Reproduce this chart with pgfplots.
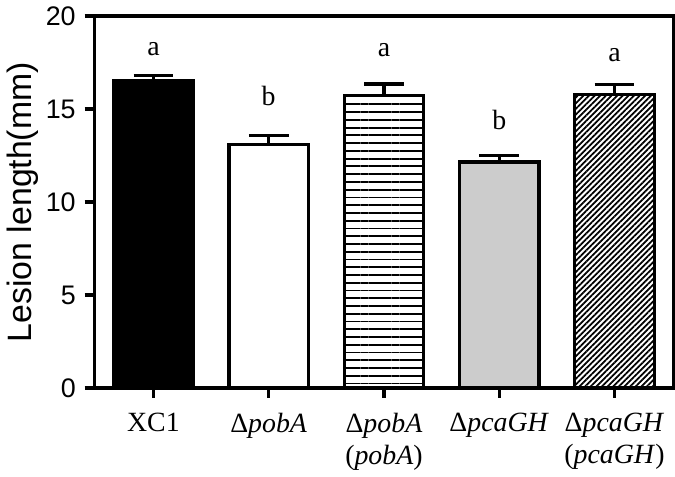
\documentclass[border=0pt]{standalone}
\usepackage{fontspec}
\setmainfont{Liberation Sans}
\newfontfamily\timesfont{Liberation Serif}
\usepackage{pgfplots}
\pgfplotsset{compat=1.18}
\usetikzlibrary{patterns.meta}

\begin{document}
\begin{tikzpicture}
  \begin{axis}[
      scale only axis,
      width=291pt, height=187pt,
      ymin=0, ymax=20, ytick={0,5,...,20},
      xmin=-0.51, xmax=4.51,
      xtick={0,1,2,3,4},
      xticklabels={XC1, Δ\textit{pobA}, Δ\textit{pobA}\\(\textit{pobA}), Δ\textit{pcaGH}, Δ\textit{pcaGH}\\(\textit{pcaGH})},
      tick align=outside, xtick pos=bottom, ytick pos=left,
      major tick length=5pt,
      axis line style={line width=1.7pt},
      every tick/.style={line width=1.7pt, black},
      ylabel={Lesion length(mm)},
      ylabel style={font=\fontsize{17}{19}\selectfont, yshift=-3pt},
      yticklabel style={font=\fontsize{13.5}{15}\selectfont, xshift=-1pt},
      xticklabel style={font=\timesfont\fontsize{14}{16}\selectfont, align=center, yshift=-4pt},
      /pgf/number format/assume math mode=true,
      ybar, bar width=40pt, bar shift=0pt,
      error bars/y dir=plus, error bars/y explicit,
      error bars/error bar style={line width=1.6pt, black},
      error bars/error mark options={rotate=90, mark size=10pt, line width=1.6pt, black},
    ]
    \addplot[draw=black, fill=black, line width=1.6pt] coordinates {(0,16.55) +- (0,0.25)};
    \addplot[draw=black, fill=white, line width=1.6pt] coordinates {(1,13.1) +- (0,0.5)};
    \addplot[draw=black, line width=1.6pt, pattern={Lines[angle=0, distance=3.9pt, line width=0.9pt]}, pattern color=black] coordinates {(2,15.75) +- (0,0.6)};
    \addplot[draw=black, fill=black!20, line width=1.6pt] coordinates {(3,12.15) +- (0,0.37)};
    \addplot[draw=black, line width=1.6pt, pattern={Lines[angle=45, distance=2pt, line width=0.9pt]}, pattern color=black] coordinates {(4,15.8) +- (0,0.53)};

    \begin{scope}[every node/.style={font=\timesfont\fontsize{14}{16}\selectfont}]
      \node at (axis cs:0,18.2) {a};
      \node at (axis cs:1,15.7) {b};
      \node at (axis cs:2,18.15) {a};
      \node at (axis cs:3,14.4) {b};
      \node at (axis cs:4,17.9) {a};
    \end{scope}
  \end{axis}
\end{tikzpicture}
\end{document}
